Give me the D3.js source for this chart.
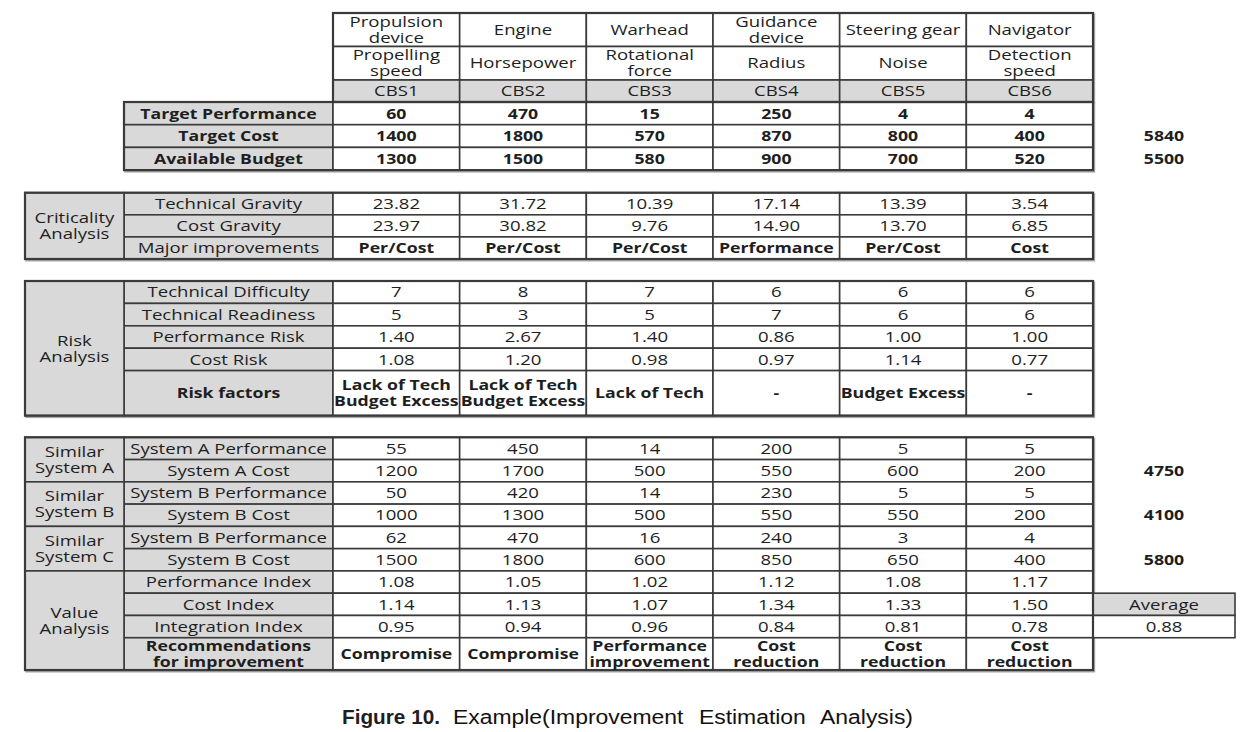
<!DOCTYPE html>
<html>
<head>
<meta charset="utf-8">
<script src="https://cdn.jsdelivr.net/npm/d3@7"></script>
<style>
  body { margin: 0; background: #fff; }
  text { font-family: "Open Sans", "Noto Sans", sans-serif; fill: #1e1e1e; }
</style>
</head>
<body>
<script>
// column data
var cbs = ['CBS1', 'CBS2', 'CBS3', 'CBS4', 'CBS5', 'CBS6'];
var components = ['Propulsion\ndevice', 'Engine', 'Warhead', 'Guidance\ndevice', 'Steering gear', 'Navigator'];
var measures = ['Propelling\nspeed', 'Horsepower', 'Rotational\nforce', 'Radius', 'Noise', 'Detection\nspeed'];

// target values
var targetPerformance = [60, 470, 15, 250, 4, 4];
var targetCost = [1400, 1800, 570, 870, 800, 400];
var availableBudget = [1300, 1500, 580, 900, 700, 520];

// criticality analysis
var technicalGravity = ['23.82', '31.72', '10.39', '17.14', '13.39', '3.54'];
var costGravity = ['23.97', '30.82', '9.76', '14.90', '13.70', '6.85'];
var majorImprovements = ['Per/Cost', 'Per/Cost', 'Per/Cost', 'Performance', 'Per/Cost', 'Cost'];

// risk analysis
var technicalDifficulty = [7, 8, 7, 6, 6, 6];
var technicalReadiness = [5, 3, 5, 7, 6, 6];
var performanceRisk = ['1.40', '2.67', '1.40', '0.86', '1.00', '1.00'];
var costRisk = ['1.08', '1.20', '0.98', '0.97', '1.14', '0.77'];
var riskFactors = ['Lack of Tech\nBudget Excess', 'Lack of Tech\nBudget Excess', 'Lack of Tech', '-', 'Budget Excess', '-'];

// similar systems
var sysAPerformance = [55, 450, 14, 200, 5, 5];
var sysACost = [1200, 1700, 500, 550, 600, 200];
var sysBPerformance = [50, 420, 14, 230, 5, 5];
var sysBCost = [1000, 1300, 500, 550, 550, 200];
var sysCPerformance = [62, 470, 16, 240, 3, 4];
var sysCCost = [1500, 1800, 600, 850, 650, 400];

// value analysis
var performanceIndex = ['1.08', '1.05', '1.02', '1.12', '1.08', '1.17'];
var costIndex = ['1.14', '1.13', '1.07', '1.34', '1.33', '1.50'];
var integrationIndex = ['0.95', '0.94', '0.96', '0.84', '0.81', '0.78'];
var recommendations = ['Compromise', 'Compromise', 'Performance\nimprovement', 'Cost\nreduction', 'Cost\nreduction', 'Cost\nreduction'];

// row totals
var totalTargetCost = 5840;
var totalBudget = 5500;
var totalSysA = 4750;
var totalSysB = 4100;
var totalSysC = 5800;
var averageLabel = 'Average';
var averageIntegration = '0.88';

var w = 1255;
var h = 732;
var grey = '#d9d9d9';
var line = '#3a3a3a';

var x = d3.scaleBand().domain(cbs).range([333, 1093]);
var groupX = 25, labelX = 124, rightX = 1093, rightW = 142;

var svg = d3.select('body').append('svg')
    .attr('width', w)
    .attr('height', h);

svg.append('rect').attr('width', w).attr('height', h).attr('fill', 'white');

var shadow = svg.append('g');
var g = svg.append('g');
var tg = svg.append('g');

function cell(x0, y0, cw, ch, fill) {
    g.append('rect')
     .attr('x', x0).attr('y', y0)
     .attr('width', cw).attr('height', ch)
     .attr('fill', fill || 'white')
     .attr('stroke', line)
     .attr('stroke-width', 1.6);
}

// text is stretched sideways a little to match the wide glyphs of the original
function label(cx, cy, str, bold) {
    var lines = String(str).split('\n');
    var lh = 16;
    var t = tg.append('text')
     .attr('transform', 'translate(' + cx + ',0) scale(' + (bold ? 1.18 : 1.24) + ',1)')
     .attr('text-anchor', 'middle')
     .attr('font-size', 15)
     .attr('font-weight', bold ? 700 : 400);
    lines.forEach(function(s, i){
        t.append('tspan')
         .attr('x', 0)
         .attr('y', cy + (i - (lines.length - 1) / 2) * lh)
         .attr('dy', '0.35em')
         .text(s);
    });
}

function frame(x0, y0, fw, fh) {
    shadow.append('rect')
     .attr('x', x0 + 1.2).attr('y', y0 + 1.5)
     .attr('width', fw).attr('height', fh)
     .attr('fill', 'none')
     .attr('stroke', '#a8a8a8')
     .attr('stroke-width', 2);
    svg.insert('rect', 'g:last-child')
     .attr('x', x0).attr('y', y0)
     .attr('width', fw).attr('height', fh)
     .attr('fill', 'none')
     .attr('stroke', line)
     .attr('stroke-width', 2.2);
}

// header rows
var headRows = [
    {top: 13, hh: 33.5, vals: components, fill: 'white'},
    {top: 46.5, hh: 33.5, vals: measures, fill: 'white'},
    {top: 80, hh: 22, vals: cbs, fill: grey}
];
headRows.forEach(function(r){
    cbs.forEach(function(c, i){
        cell(x(c), r.top, x.bandwidth(), r.hh, r.fill);
        label(x(c) + x.bandwidth() / 2, r.top + r.hh / 2, r.vals[i], false);
    });
});
frame(x.range()[0], 13, x.range()[1] - x.range()[0], 89);

var blocks = [
    {top: 102, rh: 22.7, groups: [], rows: [
        {name: 'Target Performance', vals: targetPerformance, lb: true, vb: true},
        {name: 'Target Cost', vals: targetCost, lb: true, vb: true, total: totalTargetCost},
        {name: 'Available Budget', vals: availableBudget, lb: true, vb: true, total: totalBudget}
    ]},
    {top: 192.7, rh: 22.1, groups: [{name: 'Criticality\nAnalysis', span: 3}], rows: [
        {name: 'Technical Gravity', vals: technicalGravity},
        {name: 'Cost Gravity', vals: costGravity},
        {name: 'Major improvements', vals: majorImprovements, vb: true}
    ]},
    {top: 281, rh: 22.4, groups: [{name: 'Risk\nAnalysis', span: 5}], rows: [
        {name: 'Technical Difficulty', vals: technicalDifficulty},
        {name: 'Technical Readiness', vals: technicalReadiness},
        {name: 'Performance Risk', vals: performanceRisk},
        {name: 'Cost Risk', vals: costRisk},
        {name: 'Risk factors', vals: riskFactors, lb: true, vb: true, tall: 45}
    ]},
    {top: 437.3, rh: 22.27, groups: [
        {name: 'Similar\nSystem A', span: 2},
        {name: 'Similar\nSystem B', span: 2},
        {name: 'Similar\nSystem C', span: 2},
        {name: 'Value\nAnalysis', span: 4}
    ], rows: [
        {name: 'System A Performance', vals: sysAPerformance},
        {name: 'System A Cost', vals: sysACost, total: totalSysA},
        {name: 'System B Performance', vals: sysBPerformance},
        {name: 'System B Cost', vals: sysBCost, total: totalSysB},
        {name: 'System B Performance', vals: sysCPerformance},
        {name: 'System B Cost', vals: sysCCost, total: totalSysC},
        {name: 'Performance Index', vals: performanceIndex},
        {name: 'Cost Index', vals: costIndex, avg: averageLabel},
        {name: 'Integration Index', vals: integrationIndex, avg2: averageIntegration},
        {name: 'Recommendations\nfor improvement', vals: recommendations, lb: true, vb: true, tall: 32.3}
    ]}
];

blocks.forEach(function(b){
    var y0 = b.top;
    var ys = [];
    b.rows.forEach(function(r){
        var rh = r.tall || b.rh;
        ys.push([y0, rh]);
        cell(labelX, y0, x.range()[0] - labelX, rh, grey);
        label((labelX + x.range()[0]) / 2, y0 + rh / 2, r.name, r.lb);
        cbs.forEach(function(c, i){
            cell(x(c), y0, x.bandwidth(), rh, 'white');
            label(x(c) + x.bandwidth() / 2, y0 + rh / 2, r.vals[i], r.vb);
        });
        if (r.total) label(rightX + rightW / 2, y0 + rh / 2, r.total, true);
        if (r.avg) {
            cell(rightX, y0, rightW, rh, grey);
            label(rightX + rightW / 2, y0 + rh / 2, r.avg, false);
        }
        if (r.avg2) {
            cell(rightX, y0, rightW, rh, 'white');
            label(rightX + rightW / 2, y0 + rh / 2, r.avg2, false);
        }
        y0 += rh;
    });
    var k = 0;
    b.groups.forEach(function(gr){
        var gy = ys[k][0];
        var last = ys[k + gr.span - 1];
        var gh = last[0] + last[1] - gy;
        cell(groupX, gy, labelX - groupX, gh, grey);
        label((groupX + labelX) / 2, gy + gh / 2, gr.name, false);
        k += gr.span;
    });
    var left = b.groups.length ? groupX : labelX;
    frame(left, b.top, x.range()[1] - left, y0 - b.top);
});

// caption
var capFont = '"Liberation Sans", Arial, sans-serif';
svg.append('text')
    .attr('x', 342).attr('y', 724)
    .style('font-family', capFont)
    .attr('font-size', 20)
    .attr('font-weight', 700)
    .attr('textLength', 98)
    .attr('lengthAdjust', 'spacingAndGlyphs')
    .text('Figure 10.');
svg.append('text')
    .attr('x', 453).attr('y', 724)
    .style('font-family', capFont)
    .style('fill', '#111')
    .style('word-spacing', '8px')
    .attr('font-size', 20)
    .attr('textLength', 460)
    .attr('lengthAdjust', 'spacingAndGlyphs')
    .text('Example(Improvement Estimation Analysis)');
</script>
</body>
</html>
